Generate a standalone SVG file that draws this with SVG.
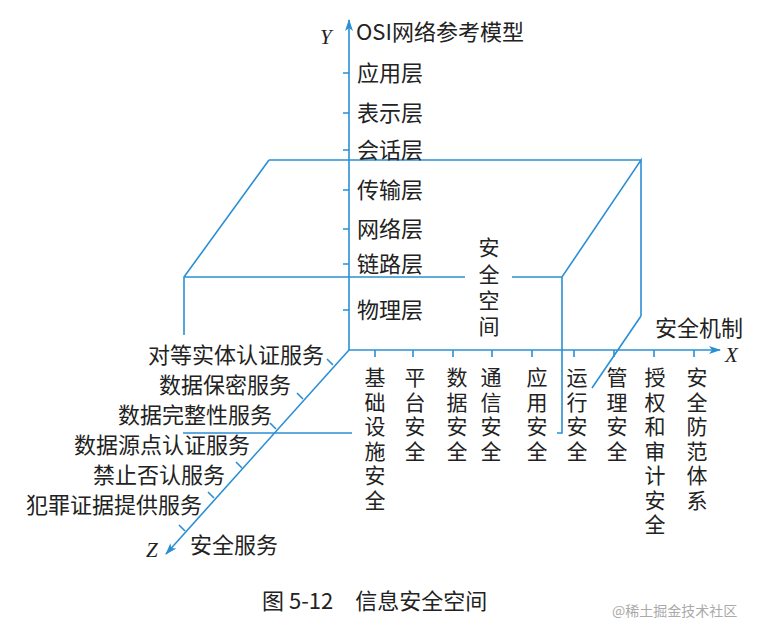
<svg xmlns="http://www.w3.org/2000/svg" width="760" height="626" viewBox="0 0 760 626">
<style>
.l{stroke:#2b8fd4;stroke-width:1.6;fill:none}
text{font-family:"Noto Sans CJK SC","Liberation Sans",sans-serif;font-size:22px;fill:#222}
.e{font-family:"Liberation Serif",serif;font-style:italic;font-size:21px}
.v{text-anchor:middle;font-size:21px}
.r{text-anchor:end}
</style>
<defs><marker id="a" markerWidth="12" markerHeight="8" refX="11" refY="4" orient="auto" markerUnits="userSpaceOnUse"><path d="M0,0 L12,4 L0,8 L3,4Z" fill="#2b8fd4"/></marker></defs>
<rect width="760" height="626" fill="#fff"/>
<g id="connectors">
<path class="l" d="M349,350 V20" marker-end="url(#a)"/>
<path class="l" d="M349,350 H720" marker-end="url(#a)"/>
<path class="l" d="M349,350 L166,554" marker-end="url(#a)"/>
<path class="l" d="M343,73H349M343,113H349M343,150H349M343,190H349M343,229H349M343,264H349M343,310H349"/>
<path class="l" d="M375,350v7M413,350v7M453,350v7M492,350v7M532,350v7M574,350v7M614,350v7M654,350v7M694,350v7"/>
<path class="l" d="M333,365l-6,-6M303,399l-6,-6M276,429l-6,-6M242,468l-6,-6M214,498l-6,-6M185,531l-6,-6"/>
</g>
<g id="box">
<path class="l" d="M269,160 H641 M269,160 L184,277 V335 M184,277 H465 M512,277 H562 L641,160 V316 M562,277 V433 L557,433 M641,316 L592,388 M183,433 H352"/>
</g>
<g id="y-labels">
<text x="320" y="44" class="e">Y</text>
<text x="356" y="40">OSI网络参考模型</text>
<text x="357" y="81">应用层</text>
<text x="357" y="121">表示层</text>
<text x="357" y="158">会话层</text>
<text x="357" y="198">传输层</text>
<text x="357" y="237">网络层</text>
<text x="357" y="272">链路层</text>
<text x="357" y="318">物理层</text>
</g>
<g id="space"><text x="489" y="255" class="v">安</text><text x="489" y="282" class="v">全</text><text x="489" y="308" class="v">空</text><text x="489" y="334" class="v">间</text></g>
<g id="x-labels">
<text x="655" y="336">安全机制</text>
<text x="725" y="362" class="e">X</text>
<text class="v" x="375" y="385">基</text><text class="v" x="375" y="409.5">础</text><text class="v" x="375" y="434">设</text><text class="v" x="375" y="458.5">施</text><text class="v" x="375" y="483">安</text><text class="v" x="375" y="507.5">全</text>
<text class="v" x="415" y="385">平</text><text class="v" x="415" y="409.5">台</text><text class="v" x="415" y="434">安</text><text class="v" x="415" y="458.5">全</text>
<text class="v" x="457" y="385">数</text><text class="v" x="457" y="409.5">据</text><text class="v" x="457" y="434">安</text><text class="v" x="457" y="458.5">全</text>
<text class="v" x="491" y="385">通</text><text class="v" x="491" y="409.5">信</text><text class="v" x="491" y="434">安</text><text class="v" x="491" y="458.5">全</text>
<text class="v" x="537" y="385">应</text><text class="v" x="537" y="409.5">用</text><text class="v" x="537" y="434">安</text><text class="v" x="537" y="458.5">全</text>
<text class="v" x="577" y="385">运</text><text class="v" x="577" y="409.5">行</text><text class="v" x="577" y="434">安</text><text class="v" x="577" y="458.5">全</text>
<text class="v" x="617" y="385">管</text><text class="v" x="617" y="409.5">理</text><text class="v" x="617" y="434">安</text><text class="v" x="617" y="458.5">全</text>
<text class="v" x="655" y="385">授</text><text class="v" x="655" y="409.5">权</text><text class="v" x="655" y="434">和</text><text class="v" x="655" y="458.5">审</text><text class="v" x="655" y="483">计</text><text class="v" x="655" y="507.5">安</text><text class="v" x="655" y="532">全</text>
<text class="v" x="697" y="385">安</text><text class="v" x="697" y="409.5">全</text><text class="v" x="697" y="434">防</text><text class="v" x="697" y="458.5">范</text><text class="v" x="697" y="483">体</text><text class="v" x="697" y="507.5">系</text>
</g>
<g id="z-labels">
<text class="r" x="324" y="363">对等实体认证服务</text>
<text class="r" x="291" y="393">数据保密服务</text>
<text class="r" x="272" y="423">数据完整性服务</text>
<text class="r" x="250" y="453">数据源点认证服务</text>
<text class="r" x="225" y="483">禁止否认服务</text>
<text class="r" x="202" y="513">犯罪证据提供服务</text>
<text x="190" y="553">安全服务</text>
<text x="146" y="557" class="e">Z</text>
</g>
<g id="caption">
<text x="262" y="609">图 5-12　信息安全空间</text>
<text x="612" y="616" style="font-size:14px;fill:#aaa">@稀土掘金技术社区</text>
</g>
</svg>
